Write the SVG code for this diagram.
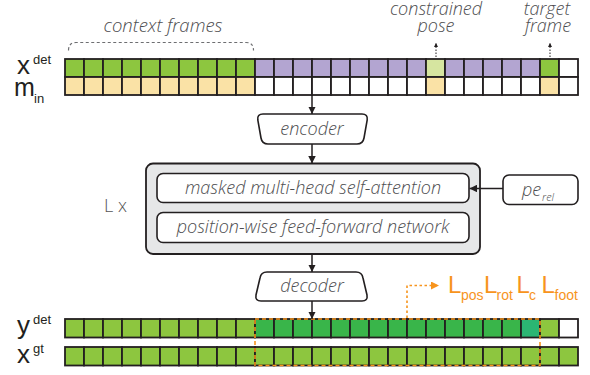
<svg xmlns="http://www.w3.org/2000/svg" width="590" height="375" viewBox="0 0 590 375">
<defs>
<style>
.c{stroke:#231f20;stroke-width:1.8}
.g{fill:#8dc63f}.p{fill:#b3a5d1}.y{fill:#fae2a6}.w{fill:#ffffff}.lg{fill:#d6e5a0}.dg{fill:#39b54a}.tg{fill:#2bb673}
.lbl{font-family:"Liberation Sans",Arial,sans-serif;fill:#231f20}
.it{font-family:"Open Sans",sans-serif;font-style:italic;font-weight:300;fill:#4d4d4f}
.box{fill:#ffffff;stroke:#231f20;stroke-width:1.6}
.con{stroke:#231f20;stroke-width:1.5;fill:none}
.org{font-family:"Liberation Sans",Arial,sans-serif;fill:#f7941d}
</style>
<marker id="ah" viewBox="0 0 10 10" refX="10" refY="5" markerWidth="5" markerHeight="5" orient="auto" markerUnits="strokeWidth">
<path d="M0,0 L10,5 L0,10 Z" fill="#231f20"/>
</marker>
<marker id="ahs" viewBox="0 0 10 10" refX="10" refY="5" markerWidth="4" markerHeight="4" orient="auto" markerUnits="strokeWidth">
<path d="M0,0 L10,5 L0,10 Z" fill="#231f20"/>
</marker>
<marker id="aho" viewBox="0 0 10 10" refX="10" refY="5" markerWidth="5" markerHeight="5" orient="auto" markerUnits="strokeWidth">
<path d="M0,0 L10,5 L0,10 Z" fill="#f7941d"/>
</marker>
</defs>
<rect width="590" height="375" fill="#ffffff"/>

<g id="context-label">
<text class="it" x="163" y="32" font-size="18.5" text-anchor="middle">context frames</text>
<path d="M68.5,50.5 Q68.5,42.5 76,42.5 H246 Q253.5,42.5 253.5,50.5" fill="none" stroke="#6d6e71" stroke-width="1.2" stroke-dasharray="3 2.5"/>
</g>
<g id="constrained-label">
<text class="it" x="436" y="15" font-size="18" text-anchor="middle">constrained</text>
<text class="it" x="436" y="32" font-size="18" text-anchor="middle">pose</text>
</g>
<g id="target-label">
<text class="it" x="547" y="15" font-size="18" text-anchor="middle">target</text>
<text class="it" x="548" y="32" font-size="18" text-anchor="middle">frame</text>
</g>

<g id="row-xdet">
<text class="lbl" x="17" y="74" font-size="26">x</text>
<text class="lbl" x="33" y="64" font-size="13">det</text>
<g class="c">
<rect class="g" x="65" y="59" width="19" height="18"/><rect class="g" x="84" y="59" width="19" height="18"/><rect class="g" x="103" y="59" width="19" height="18"/><rect class="g" x="122" y="59" width="19" height="18"/><rect class="g" x="141" y="59" width="19" height="18"/><rect class="g" x="160" y="59" width="19" height="18"/><rect class="g" x="179" y="59" width="19" height="18"/><rect class="g" x="198" y="59" width="19" height="18"/><rect class="g" x="217" y="59" width="19" height="18"/><rect class="g" x="236" y="59" width="19" height="18"/>
<rect class="p" x="255" y="59" width="19" height="18"/><rect class="p" x="274" y="59" width="19" height="18"/><rect class="p" x="293" y="59" width="19" height="18"/><rect class="p" x="312" y="59" width="19" height="18"/><rect class="p" x="331" y="59" width="19" height="18"/><rect class="p" x="350" y="59" width="19" height="18"/><rect class="p" x="369" y="59" width="19" height="18"/><rect class="p" x="388" y="59" width="19" height="18"/><rect class="p" x="407" y="59" width="19" height="18"/>
<rect class="lg" x="426" y="59" width="19" height="18"/>
<rect class="p" x="445" y="59" width="19" height="18"/><rect class="p" x="464" y="59" width="19" height="18"/><rect class="p" x="483" y="59" width="19" height="18"/><rect class="p" x="502" y="59" width="19" height="18"/><rect class="p" x="521" y="59" width="19" height="18"/>
<rect class="g" x="540" y="59" width="19" height="18"/>
<rect class="w" x="559" y="59" width="19" height="18"/>
</g>
</g>

<g id="row-min">
<text class="lbl" x="14" y="96" font-size="25">m</text>
<text class="lbl" x="34" y="103" font-size="13">in</text>
<g class="c">
<rect class="y" x="65" y="77" width="19" height="18"/><rect class="y" x="84" y="77" width="19" height="18"/><rect class="y" x="103" y="77" width="19" height="18"/><rect class="y" x="122" y="77" width="19" height="18"/><rect class="y" x="141" y="77" width="19" height="18"/><rect class="y" x="160" y="77" width="19" height="18"/><rect class="y" x="179" y="77" width="19" height="18"/><rect class="y" x="198" y="77" width="19" height="18"/><rect class="y" x="217" y="77" width="19" height="18"/><rect class="y" x="236" y="77" width="19" height="18"/>
<rect class="w" x="255" y="77" width="19" height="18"/><rect class="w" x="274" y="77" width="19" height="18"/><rect class="w" x="293" y="77" width="19" height="18"/><rect class="w" x="312" y="77" width="19" height="18"/><rect class="w" x="331" y="77" width="19" height="18"/><rect class="w" x="350" y="77" width="19" height="18"/><rect class="w" x="369" y="77" width="19" height="18"/><rect class="w" x="388" y="77" width="19" height="18"/><rect class="w" x="407" y="77" width="19" height="18"/>
<rect class="y" x="426" y="77" width="19" height="18"/>
<rect class="w" x="445" y="77" width="19" height="18"/><rect class="w" x="464" y="77" width="19" height="18"/><rect class="w" x="483" y="77" width="19" height="18"/><rect class="w" x="502" y="77" width="19" height="18"/><rect class="w" x="521" y="77" width="19" height="18"/>
<rect class="y" x="540" y="77" width="19" height="18"/>
<rect class="w" x="559" y="77" width="19" height="18"/>
</g>
</g>

<g id="encoder">
<path class="box" d="M263,114 H362 Q368,114 367.2,120 L364,138 Q363,144 357,144 H268 Q262,144 261,138 L257.8,120 Q257,114 263,114 Z"/>
<text class="it" x="312" y="134.5" font-size="18" text-anchor="middle">encoder</text>
</g>

<g id="transformer-block">
<rect x="146" y="163.5" width="334" height="90.5" rx="7" fill="#e6e7e8" stroke="#231f20" stroke-width="1.8"/>
<text x="104" y="212" font-family="'Open Sans',sans-serif" font-weight="300" font-size="18" fill="#555555">L x</text>
<g id="attention">
<rect class="box" x="157" y="173.5" width="312" height="29" rx="6"/>
<text class="it" x="313" y="194" font-size="18" text-anchor="middle">masked multi-head self-attention</text>
</g>
<g id="feed-forward">
<rect class="box" x="157" y="212.5" width="312" height="30" rx="6"/>
<text class="it" x="313" y="232.5" font-size="18" text-anchor="middle">position-wise feed-forward network</text>
</g>
</g>

<g id="pe-rel">
<rect class="box" x="503" y="175" width="75" height="29.5" rx="6"/>
<text class="it" x="522" y="195.5" font-size="18">pe</text>
<text class="it" x="542" y="200.5" font-size="11">rel</text>
</g>

<g id="decoder">
<path class="box" d="M267,272 H356 Q362,272 363,278 L367,295 Q368,301 362,301 H261 Q255,301 256,295 L260,278 Q261,272 267,272 Z"/>
<text class="it" x="312" y="292" font-size="18" text-anchor="middle">decoder</text>
</g>

<g id="row-ydet">
<text class="lbl" x="17" y="334" font-size="26">y</text>
<text class="lbl" x="33" y="324" font-size="13">det</text>
<g class="c">
<rect class="g" x="65" y="319" width="19" height="18.5"/><rect class="g" x="84" y="319" width="19" height="18.5"/><rect class="g" x="103" y="319" width="19" height="18.5"/><rect class="g" x="122" y="319" width="19" height="18.5"/><rect class="g" x="141" y="319" width="19" height="18.5"/><rect class="g" x="160" y="319" width="19" height="18.5"/><rect class="g" x="179" y="319" width="19" height="18.5"/><rect class="g" x="198" y="319" width="19" height="18.5"/><rect class="g" x="217" y="319" width="19" height="18.5"/><rect class="g" x="236" y="319" width="19" height="18.5"/>
<rect class="dg" x="255" y="319" width="19" height="18.5"/><rect class="dg" x="274" y="319" width="19" height="18.5"/><rect class="dg" x="293" y="319" width="19" height="18.5"/><rect class="dg" x="312" y="319" width="19" height="18.5"/><rect class="dg" x="331" y="319" width="19" height="18.5"/><rect class="dg" x="350" y="319" width="19" height="18.5"/><rect class="dg" x="369" y="319" width="19" height="18.5"/><rect class="dg" x="388" y="319" width="19" height="18.5"/><rect class="dg" x="407" y="319" width="19" height="18.5"/><rect class="dg" x="426" y="319" width="19" height="18.5"/><rect class="dg" x="445" y="319" width="19" height="18.5"/><rect class="dg" x="464" y="319" width="19" height="18.5"/><rect class="dg" x="483" y="319" width="19" height="18.5"/><rect class="dg" x="502" y="319" width="19" height="18.5"/>
<rect class="tg" x="521" y="319" width="19" height="18.5"/>
<rect class="g" x="540" y="319" width="19" height="18.5"/>
<rect class="w" x="559" y="319" width="19" height="18.5"/>
</g>
</g>

<g id="row-xgt">
<text class="lbl" x="17" y="362.5" font-size="26">x</text>
<text class="lbl" x="33" y="353" font-size="13">gt</text>
<g class="c">
<rect class="g" x="65" y="347" width="19" height="18.5"/><rect class="g" x="84" y="347" width="19" height="18.5"/><rect class="g" x="103" y="347" width="19" height="18.5"/><rect class="g" x="122" y="347" width="19" height="18.5"/><rect class="g" x="141" y="347" width="19" height="18.5"/><rect class="g" x="160" y="347" width="19" height="18.5"/><rect class="g" x="179" y="347" width="19" height="18.5"/><rect class="g" x="198" y="347" width="19" height="18.5"/><rect class="g" x="217" y="347" width="19" height="18.5"/><rect class="g" x="236" y="347" width="19" height="18.5"/><rect class="g" x="255" y="347" width="19" height="18.5"/><rect class="g" x="274" y="347" width="19" height="18.5"/><rect class="g" x="293" y="347" width="19" height="18.5"/><rect class="g" x="312" y="347" width="19" height="18.5"/><rect class="g" x="331" y="347" width="19" height="18.5"/><rect class="g" x="350" y="347" width="19" height="18.5"/><rect class="g" x="369" y="347" width="19" height="18.5"/><rect class="g" x="388" y="347" width="19" height="18.5"/><rect class="g" x="407" y="347" width="19" height="18.5"/><rect class="g" x="426" y="347" width="19" height="18.5"/><rect class="g" x="445" y="347" width="19" height="18.5"/><rect class="g" x="464" y="347" width="19" height="18.5"/><rect class="g" x="483" y="347" width="19" height="18.5"/><rect class="g" x="502" y="347" width="19" height="18.5"/><rect class="g" x="521" y="347" width="19" height="18.5"/><rect class="g" x="540" y="347" width="19" height="18.5"/><rect class="g" x="559" y="347" width="19" height="18.5"/>
</g>
</g>

<g id="loss-region">
<rect x="255" y="319" width="285" height="46.5" fill="none" stroke="#f7941d" stroke-width="1.6" stroke-dasharray="4 3"/>
</g>

<g id="loss-label">
<text class="org" x="448" y="293" font-size="24">L</text>
<text class="org" x="461" y="300" font-size="14">pos</text>
<text class="org" x="484" y="293" font-size="24">L</text>
<text class="org" x="496.5" y="300" font-size="14">rot</text>
<text class="org" x="516.5" y="293" font-size="24">L</text>
<text class="org" x="529" y="300" font-size="14">c</text>
<text class="org" x="541.5" y="293" font-size="24">L</text>
<text class="org" x="554.5" y="300" font-size="14">foot</text>
</g>

<g id="connectors">
<line class="con" x1="312" y1="95" x2="312" y2="114" marker-end="url(#ah)"/>
<line class="con" x1="312" y1="144" x2="312" y2="163.5" marker-end="url(#ah)"/>
<line class="con" x1="312" y1="254" x2="312" y2="272" marker-end="url(#ah)"/>
<line class="con" x1="312" y1="301" x2="312" y2="319" marker-end="url(#ah)"/>
<line class="con" x1="503" y1="188.5" x2="469.5" y2="188.5" marker-end="url(#ah)"/>
<line x1="436" y1="57" x2="436" y2="43" stroke="#231f20" stroke-width="1" stroke-dasharray="1.5 1.5" marker-end="url(#ahs)"/>
<line x1="550" y1="57" x2="550" y2="43" stroke="#231f20" stroke-width="1" stroke-dasharray="1.5 1.5" marker-end="url(#ahs)"/>
<path d="M407,318 V285.5 H439" fill="none" stroke="#f7941d" stroke-width="1.6" stroke-dasharray="2.5 2.5" marker-end="url(#aho)"/>
</g>
</svg>
